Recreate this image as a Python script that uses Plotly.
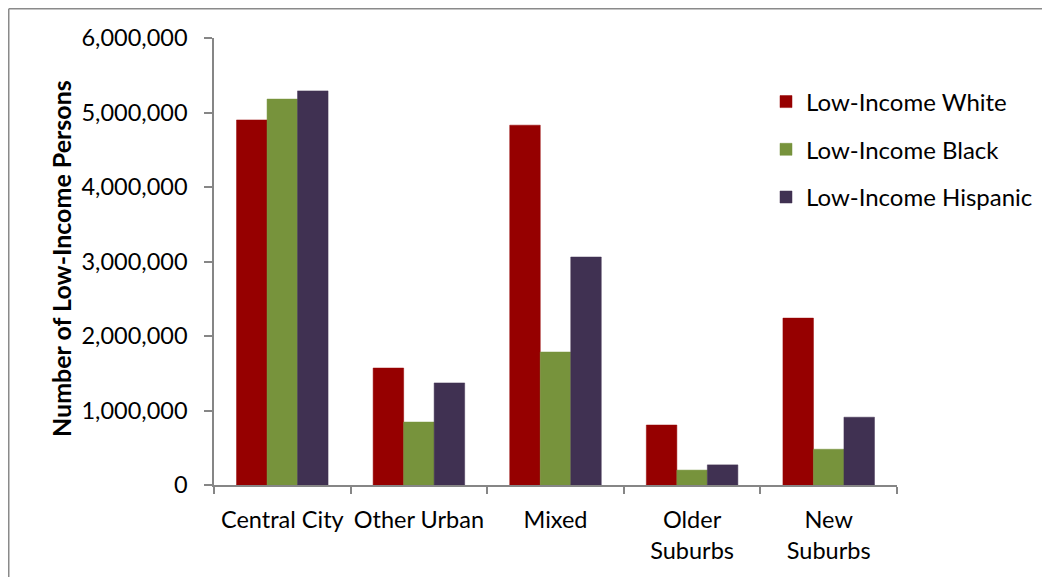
import plotly.graph_objects as go

categories = ["Central City", "Other Urban", "Mixed", "Older<br>Suburbs", "New<br>Suburbs"]
series_names = ["Low-Income White", "Low-Income Black", "Low-Income Hispanic"]
white = [4900000, 1570000, 4830000, 805000, 2240000]
black = [5180000, 845000, 1785000, 200000, 480000]
hispanic = [5290000, 1370000, 3060000, 270000, 910000]
colors = ["#960000", "#77933C", "#403152"]
y_ticks = [0, 1000000, 2000000, 3000000, 4000000, 5000000, 6000000]
y_tick_labels = ["0", "1,000,000", "2,000,000", "3,000,000", "4,000,000", "5,000,000", "6,000,000"]
y_title = "Number of Low-Income Persons"

FONT = "Lato, Open Sans, sans-serif"

fig = go.Figure()
for name, vals, col in zip(series_names, [white, black, hispanic], colors):
    fig.add_trace(go.Bar(
        x=categories, y=vals, name=name, legendgroup=name,
        marker=dict(color=col, line=dict(color=col, width=0.5)),
    ))

# page body adds an 8px offset; target screen coords are converted below
OFF = 8
W, H = 1050, 577
ml, mt = 214 - OFF, 38 - OFF
pw, ph = 683, 447
mr, mb = W - ml - pw, H - mt - ph

def px_x(x):
    return (x - OFF - ml) / pw

def px_y(y):
    return (mt + ph - (y - OFF)) / ph

fig.update_layout(
    width=W, height=H,
    margin=dict(l=ml, r=mr, t=mt, b=mb, autoexpand=False),
    paper_bgcolor="white", plot_bgcolor="white",
    font=dict(family=FONT, size=23, color="black"),
    barmode="group", bargap=0.33, bargroupgap=0,
    showlegend=True,
    legend=dict(
        x=px_x(766), y=px_y(79.5), xanchor="left", yanchor="top",
        font=dict(family=FONT, size=24, color="black"),
        tracegroupgap=13.5, bgcolor="rgba(0,0,0,0)",
    ),
    xaxis=dict(
        showline=True, linecolor="#868686", linewidth=1.5,
        ticks="outside", ticklen=7, tickcolor="#868686", tickwidth=1.5,
        tickson="boundaries", showgrid=False, tickangle=0,
        ticklabelstandoff=13,
        tickfont=dict(family=FONT, size=23.5, color="black"),
    ),
    yaxis=dict(
        range=[0, 6000000], tickvals=y_ticks, ticktext=y_tick_labels,
        showline=True, linecolor="#868686", linewidth=1.5,
        ticks="outside", ticklen=8, tickcolor="#868686", tickwidth=1.5,
        showgrid=False, zeroline=False,
        ticklabelstandoff=12,
        tickfont=dict(family=FONT, size=23.5, color="black"),
    ),
    annotations=[dict(
        text="<b>" + y_title + "</b>", textangle=-90,
        xref="paper", yref="paper", x=px_x(61), y=px_y(259),
        xanchor="center", yanchor="middle", showarrow=False,
        font=dict(family=FONT, size=25, color="black"),
    )],
    shapes=[
        dict(type="line", xref="paper", yref="paper",
             x0=px_x(8.75), x1=px_x(1060), y0=px_y(8.75), y1=px_y(8.75),
             line=dict(color="#8a8a8a", width=1.5)),
        dict(type="line", xref="paper", yref="paper",
             x0=px_x(8.75), x1=px_x(8.75), y0=px_y(8.75), y1=px_y(590),
             line=dict(color="#8a8a8a", width=1.5)),
    ],
)

fig.write_html("out.html")
